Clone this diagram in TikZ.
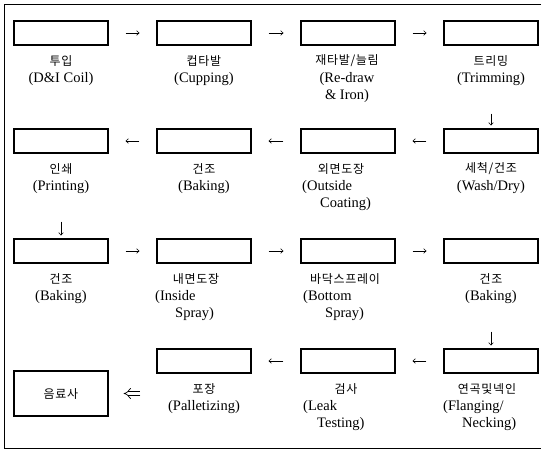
\documentclass[tikz,border=0pt]{standalone}
\usepackage{fontspec}
\setmainfont{Liberation Serif}
\newfontfamily\kr[LetterSpace=6]{Noto Sans CJK KR}
\usetikzlibrary{arrows.meta}
\begin{document}
\begin{tikzpicture}[x=1pt,y=-1pt,
  box/.style={draw, line width=1.2pt, minimum width=94pt, minimum height=24pt, inner sep=0pt},
  kor/.style={font=\kr\fontsize{12}{14}\selectfont, inner sep=0pt},
  eng/.style={font=\fontsize{14.5}{17}\selectfont, inner sep=0pt},
  harr/.style={-{To[length=3pt,width=5pt]}, line width=0.6pt, shorten <=17pt, shorten >=17pt},
  varr/.style={-{To[length=3pt,width=5pt]}, line width=0.6pt, shorten <=68pt, shorten >=3pt},
  darr/.style={line width=0.7pt, double, double distance=3.2pt, -{Implies[length=4pt]}, shorten <=16pt, shorten >=15pt},
  frame/.style={line width=0.9pt}]
\useasboundingbox (0,0) rectangle (545,452);
\draw[frame] (541,4) -- (4,4) -- (4,448) -- (541,448);

% row 1
\node[box] (a1) at (61,33) {};
\node[box] (a2) at (204,33) {};
\node[box] (a3) at (348,33) {};
\node[box] (a4) at (491,33) {};
\node[kor] (ka1) at (61,61) {투입};
\node[eng] (ea1) at (61,79) {(D\&I Coil)};
\node[kor] (ka2) at (204,61) {컵타발};
\node[eng] (ea2) at (204,79) {(Cupping)};
\node[kor] (ka3) at (347,61) {재타발/늘림};
\node[eng] (ea3) at (347,79) {(Re-draw};
\node[eng] (fa3) at (347,96) {\& Iron)};
\node[kor] (ka4) at (491,61) {트리밍};
\node[eng] (ea4) at (491,79) {(Trimming)};

% row 2
\node[box] (b1) at (61,141) {};
\node[box] (b2) at (204,141) {};
\node[box] (b3) at (348,141) {};
\node[box] (b4) at (491,141) {};
\node[kor] (kb1) at (61,169) {인쇄};
\node[eng] (eb1) at (61,187) {(Printing)};
\node[kor] (kb2) at (204,169) {건조};
\node[eng] (eb2) at (204,187) {(Baking)};
\node[kor] (kb3) at (341,169) {외면도장};
\node[eng, anchor=west] (eb3) at (302,187) {(Outside};
\node[eng, anchor=west] (fb3) at (320,204) {Coating)};
\node[kor] (kb4) at (491,169) {세척/건조};
\node[eng] (eb4) at (491,187) {(Wash/Dry)};

% row 3
\node[box] (c1) at (61,251) {};
\node[box] (c2) at (204,251) {};
\node[box] (c3) at (348,251) {};
\node[box] (c4) at (491,251) {};
\node[kor] (kc1) at (61,279) {건조};
\node[eng] (ec1) at (61,297) {(Baking)};
\node[kor] (kc2) at (196,279) {내면도장};
\node[eng, anchor=west] (ec2) at (155,297) {(Inside};
\node[eng, anchor=west] (fc2) at (175,314) {Spray)};
\node[kor] (kc3) at (345,279) {바닥스프레이};
\node[eng, anchor=west] (ec3) at (303,297) {(Bottom};
\node[eng, anchor=west] (fc3) at (325,314) {Spray)};
\node[kor] (kc4) at (491,279) {건조};
\node[eng] (ec4) at (491,297) {(Baking)};

% row 4
\node[box, minimum height=45pt] (d1) at (61,393.5) {};
\node[kor] (kd1) at (61,393.5) {음료사};
\node[box] (d2) at (204,361) {};
\node[box] (d3) at (348,361) {};
\node[box] (d4) at (491,361) {};
\node[kor] (kd2) at (204,389) {포장};
\node[eng] (ed2) at (204,407) {(Palletizing)};
\node[kor] (kd3) at (346,389) {검사};
\node[eng, anchor=west] (ed3) at (303,407) {(Leak};
\node[eng, anchor=west] (fd3) at (317,424) {Testing)};
\node[kor] (kd4) at (487,389) {연곡및넥인};
\node[eng, anchor=west] (ed4) at (443,407) {(Flanging/};
\node[eng, anchor=west] (fd4) at (462,424) {Necking)};

% connectors
\draw[harr] (a1) -- (a2);
\draw[harr] (a2) -- (a3);
\draw[harr] (a3) -- (a4);
\draw[varr] (a4) -- (b4);
\draw[harr] (b4) -- (b3);
\draw[harr] (b3) -- (b2);
\draw[harr] (b2) -- (b1);
\draw[varr] (b1) -- (c1);
\draw[harr] (c1) -- (c2);
\draw[harr] (c2) -- (c3);
\draw[harr] (c3) -- (c4);
\draw[varr] (c4) -- (d4);
\draw[harr] (d4) -- (d3);
\draw[harr] (d3) -- (d2);
\coordinate (dd) at (d1.east -| d2.west);
\draw[darr] (dd) -- (d1.east);
\end{tikzpicture}
\end{document}
